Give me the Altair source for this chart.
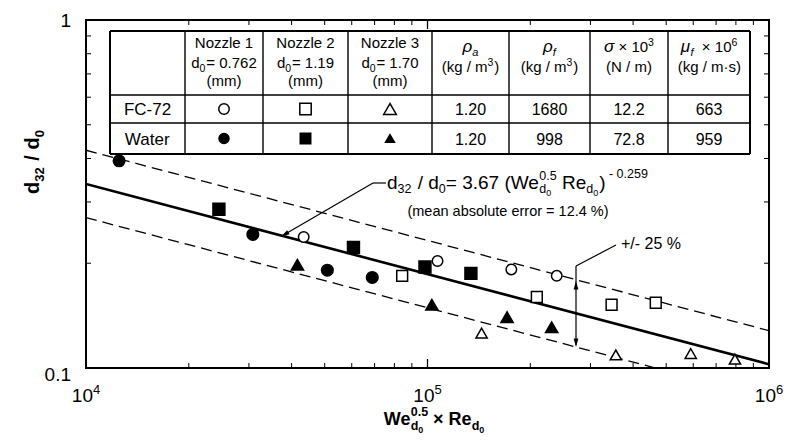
import altair as alt
import pandas as pd

# ---------------- data ----------------
water_n1_x = [1.25e4, 3.08e4, 5.09e4, 6.89e4]
water_n1_y = [0.394, 0.242, 0.191, 0.182]
water_n2_x = [2.45e4, 6.07e4, 9.83e4, 1.34e5]
water_n2_y = [0.286, 0.222, 0.195, 0.187]
water_n3_x = [4.16e4, 1.03e5, 1.71e5, 2.31e5]
water_n3_y = [0.198, 0.152, 0.140, 0.131]
fc72_n1_x = [4.34e4, 1.07e5, 1.76e5, 2.39e5]
fc72_n1_y = [0.238, 0.203, 0.192, 0.184]
fc72_n2_x = [8.43e4, 2.09e5, 3.46e5, 4.66e5]
fc72_n2_y = [0.184, 0.160, 0.152, 0.154]
fc72_n3_x = [1.44e5, 3.56e5, 5.90e5, 7.95e5]
fc72_n3_y = [0.126, 0.109, 0.110, 0.106]

fit_x = [1e4, 1e6]
fit_y = [0.338, 0.1025]
upper_y = [0.4225, 0.128]
lower_y = [0.2705, 0.082]

x_major = [1e4, 1e5, 1e6]
x_exp = ["4", "5", "6"]
x_minor = [2e4, 3e4, 4e4, 5e4, 6e4, 7e4, 8e4, 9e4, 2e5, 3e5, 4e5, 5e5, 6e5, 7e5, 8e5, 9e5]
y_minor = [0.2, 0.3, 0.4, 0.5, 0.6, 0.7, 0.8, 0.9]

fluids = ["FC-72", "Water"]
nozzles = ["Nozzle 1", "Nozzle 2", "Nozzle 3"]
nozzle_d0 = ["0.762", "1.19", "1.70"]
fc72_props = ["1.20", "1680", "12.2", "663"]
water_props = ["1.20", "998", "72.8", "959"]

# ---------------- layout constants ----------------
FONT = "Liberation Sans"
L, T, W, H = 86, 20, 683, 348
xs = alt.Scale(type="log", domain=[1e4, 1e6], nice=False)
ys = alt.Scale(type="log", domain=[0.1, 1], nice=False)

one = alt.Data(values=[{"k": 0}])

AR = {' ': .278, '(': .333, ')': .333, '+': .584, '-': .333, '.': .278, '/': .278, '=': .584,
      '%': .889, '×': .584, '·': .278, 'C': .722, 'F': .611, 'N': .722, 'R': .722, 'W': .944,
      'a': .556, 'b': .556, 'd': .556, 'e': .556, 'f': .278, 'g': .556, 'k': .5, 'l': .222,
      'm': .833, 'n': .556, 'o': .556, 'r': .333, 's': .5, 't': .278, 'u': .556, 'z': .5,
      'ρ': .575, 'σ': .6, 'μ': .576}
AB = dict(AR)
AB.update({'d': .611, 'e': .556, 'R': .722, 'W': .944, 'N': .722})


def twt(text, size, weight):
    tab = AB if weight == "bold" else AR
    return sum(tab.get(c, .556) for c in text) * size


def tw(p):
    return twt(p["t"], p["s"], p["w"]) + p["g"]


def P(t, s, r=0, w="normal", i=False, g=0.0):
    return dict(t=t, s=s, r=r, w=w, i=i, g=g)


def layout(pieces, start=0.0):
    out, cur = [], start
    for p in pieces:
        if isinstance(p, list):
            ends = []
            for seq in p:
                o, e = layout(seq, cur)
                out += o
                ends.append(e)
            cur = max(ends)
        else:
            out.append((p, cur))
            cur += tw(p)
    return out, cur


def rich(pieces, px, py, anchor="center", angle=0, xenc=None):
    items, total = layout(pieces)
    off = {"left": 0, "center": -total / 2, "right": -total}[anchor]
    res = []
    for p, st in items:
        txt = p["t"]
        lead = len(txt) - len(txt.lstrip(" "))
        shift = twt(" " * lead, p["s"], p["w"])
        txt = txt.strip(" ")
        res.append(alt.Chart(one).mark_text(
            text=txt, font=FONT, fontSize=p["s"], fontWeight=p["w"],
            fontStyle="italic" if p["i"] else "normal", align="left",
            baseline="alphabetic", angle=angle, dx=off + st + shift, dy=-p["r"], color="black"
        ).encode(x=xenc if xenc is not None else alt.value(px - L), y=alt.value(py - T)))
    return res


def seg(x1, y1, x2, y2, sw=1.2, dash=None):
    kw = dict(color="black", strokeWidth=sw)
    if dash:
        kw["strokeDash"] = dash
    return alt.Chart(one).mark_rule(**kw).encode(
        x=alt.value(x1 - L), y=alt.value(y1 - T), x2=alt.value(x2 - L), y2=alt.value(y2 - T))


def head(x, y, ang):
    return alt.Chart(one).mark_point(
        shape="M0,0L-0.42,1.5L0.42,1.5Z", size=130, filled=True, color="black",
        opacity=1, angle=ang).encode(x=alt.value(x - L), y=alt.value(y - T))


layers = []

# ---------------- inward ticks ----------------
df_xmin = pd.DataFrame({"v": x_minor})
df_xmaj = pd.DataFrame({"v": x_major})
df_ymin = pd.DataFrame({"v": y_minor})
for y1, y2 in [(H, H - 5), (0, 5)]:
    layers.append(alt.Chart(df_xmin).mark_rule(color="black", strokeWidth=1).encode(
        x=alt.X("v:Q", scale=xs, axis=None), y=alt.value(y1), y2=alt.value(y2)))
    layers.append(alt.Chart(df_xmaj).mark_rule(color="black", strokeWidth=1.3).encode(
        x=alt.X("v:Q", scale=xs, axis=None), y=alt.value(y1), y2=alt.value(y2 + (-4 if y1 else 4))))
for x1, x2 in [(0, 5), (W, W - 5)]:
    layers.append(alt.Chart(df_ymin).mark_rule(color="black", strokeWidth=1).encode(
        y=alt.Y("v:Q", scale=ys, axis=None), x=alt.value(x1), x2=alt.value(x2)))

# ---------------- correlation lines ----------------
for yy, sw, dash in [(upper_y, 1.3, [11, 6]), (lower_y, 1.3, [11, 6]), (fit_y, 2.6, None)]:
    kw = dict(color="black", strokeWidth=sw, clip=True)
    if dash:
        kw["strokeDash"] = dash
    layers.append(alt.Chart(pd.DataFrame({"x": fit_x, "y": yy})).mark_line(**kw).encode(
        x=alt.X("x:Q", scale=xs, axis=None), y=alt.Y("y:Q", scale=ys, axis=None)))

# ---------------- data points ----------------
rows = []
for fl, nz, xx, yy in [
    ("Water", "Nozzle 1", water_n1_x, water_n1_y), ("Water", "Nozzle 2", water_n2_x, water_n2_y),
    ("Water", "Nozzle 3", water_n3_x, water_n3_y), ("FC-72", "Nozzle 1", fc72_n1_x, fc72_n1_y),
    ("FC-72", "Nozzle 2", fc72_n2_x, fc72_n2_y), ("FC-72", "Nozzle 3", fc72_n3_x, fc72_n3_y)]:
    for a, b in zip(xx, yy):
        rows.append({"x": a, "y": b, "fluid": fl, "nozzle": nz, "kind": fl + "|" + nz})
pts = pd.DataFrame(rows)
kinds = [f + "|" + n for f in fluids for n in nozzles]
kind_sizes = [110, 150, 190, 105, 115, 85]
shape_sc = alt.Scale(domain=nozzles, range=["circle", "square", "triangle-up"])
fill_sc = alt.Scale(domain=fluids, range=["white", "black"])
layers.append(alt.Chart(pts).mark_point(filled=True, opacity=1, strokeWidth=1.5).encode(
    x=alt.X("x:Q", scale=xs, axis=None), y=alt.Y("y:Q", scale=ys, axis=None),
    shape=alt.Shape("nozzle:N", scale=shape_sc, legend=None),
    fill=alt.Fill("fluid:N", scale=fill_sc, legend=None),
    stroke=alt.value("black"),
    size=alt.Size("kind:N", scale=alt.Scale(domain=kinds, range=kind_sizes), legend=None)))

# ---------------- table ----------------
cols = [110, 185, 263, 348, 432, 509, 590, 668, 750]
rws = [31, 95, 123, 154]
layers.append(alt.Chart(one).mark_rect(color="white").encode(
    x=alt.value(cols[0] - L), x2=alt.value(cols[-1] - L), y=alt.value(rws[0] - T), y2=alt.value(rws[-1] - T)))
for i, c in enumerate(cols):
    layers.append(seg(c, rws[0], c, rws[-1], 2.0 if i in (0, len(cols) - 1) else 1.4))
for i, r in enumerate(rws):
    layers.append(seg(cols[0], r, cols[-1], r, 2.0 if i in (0, len(rws) - 1) else 1.4))
cc = [(cols[i] + cols[i + 1]) / 2 for i in range(len(cols) - 1)]
S = 15
for k in range(3):
    layers += rich([P(nozzles[k], S)], cc[k + 1], 48)
    layers += rich([P("d", S), P("0", 10.5, -4, g=0.8), P("= " + nozzle_d0[k], S)], cc[k + 1], 68)
    layers += rich([P("(mm)", S)], cc[k + 1], 86)
layers += rich([P("ρ", 17, i=True), P("a", 11, -4, i=True)], cc[4], 52)
layers += rich([P("(kg / m", S), P("3", 10.5, 6, g=0.8), P(")", S)], cc[4], 72)
layers += rich([P("ρ", 17, i=True), P("f", 11, -4, i=True)], cc[5], 52)
layers += rich([P("(kg / m", S), P("3", 10.5, 6, g=0.8), P(")", S)], cc[5], 72)
layers += rich([P("σ", 17, i=True), P(" × 10", S), P("3", 10.5, 6)], cc[6], 52)
layers += rich([P("(N / m)", S)], cc[6], 72)
layers += rich([P("μ", 17, i=True), P("f", 11, -4, i=True), P("  × 10", S), P("6", 10.5, 6)], cc[7], 52)
layers += rich([P("(kg / m·s)", S)], cc[7], 72)
row_mid = [(rws[1] + rws[2]) / 2, (rws[2] + rws[3]) / 2]
for ri, (fl, props) in enumerate([("FC-72", fc72_props), ("Water", water_props)]):
    layers += rich([P(fl, 17)], cc[0], row_mid[ri] + 6)
    for k, shp in enumerate(["circle", "square", "triangle-up"]):
        layers.append(alt.Chart(one).mark_point(
            shape=shp, size=[110, 130, 160][k] if ri == 0 else [100, 110, 80][k], filled=True, opacity=1,
            fill="white" if ri == 0 else "black", stroke="black", strokeWidth=1.5
        ).encode(x=alt.value(cc[k + 1] - L), y=alt.value(row_mid[ri] - T)))
    for k, v in enumerate(props):
        layers += rich([P(v, 16)], cc[k + 4], row_mid[ri] + 6)

# ---------------- annotations ----------------
layers.append(seg(386, 183, 373, 183, 1.2))
layers.append(seg(373, 183, 287, 233, 1.2))
layers.append(head(281, 236.5, 240))
fs = 19
layers += rich([P("d", fs), P("32", 12.5, -4, g=1), P(" / d", fs), P("0", 12.5, -4), P("= 3.67 (We", fs),
                [[P("0.5", 12.5, 9)], [P("d", 12.5, -4), P("0", 9, -6.5)]], P(" Re", fs), P("d", 12.5, -4),
                P("0", 9, -6.5, g=1), P(")", fs), P(" - 0.259", 12.5, 11)], 387, 189, anchor="left")
layers += rich([P("(mean absolute error = 12.4 %)", 14.5)], 508, 216)

layers.append(seg(576, 266, 576, 345, 1.2))
layers.append(seg(576, 266, 616, 245, 1.2))
layers.append(head(576, 281, 0))
layers.append(head(576, 347, 180))
layers += rich([P("+/- 25 %", 16)], 621, 249, anchor="left")

# ---------------- axis labels ----------------
for v, e in zip(x_major, x_exp):
    layers += rich([P("10", 19), P(e, 13, 8)], 0, 402, xenc=alt.X(datum=v, scale=xs, axis=None))
layers += rich([P("1", 19)], 71, 27, anchor="right")
layers += rich([P("0.1", 19)], 71, 381, anchor="right")

layers += rich([P("We", 18, w="bold"), [[P("0.5", 12.5, 9, "bold")], [P("d", 12.5, -5, "bold"), P("0", 9, -8, "bold")]],
                P(" × Re", 18, w="bold"), P("d", 12.5, -5, "bold"), P("0", 9, -8, "bold")], 434, 425)
layers += rich([P("d", 20, w="bold"), P("32", 13, -5, "bold", g=1), P(" / d", 20, w="bold"), P("0", 13, -5, "bold")],
               39, 162, angle=270)

chart = alt.layer(*layers).properties(
    width=W, height=H, autosize=alt.AutoSizeParams(type="none"),
    padding={"left": L, "top": T, "right": 788 - L - W, "bottom": 444 - T - H},
    background="white",
).configure_view(stroke="black", strokeWidth=2)

chart.save("out.html", embed_options={"renderer": "svg", "actions": False})
